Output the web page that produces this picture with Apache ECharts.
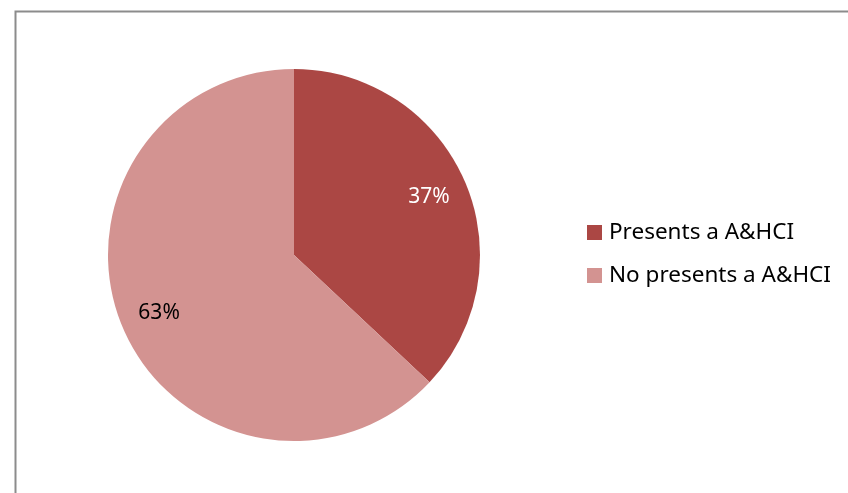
<!DOCTYPE html>
<html><head><meta charset="utf-8">
<script src="https://cdn.jsdelivr.net/npm/echarts@6/dist/echarts.min.js"></script>
<style>html,body{margin:0;padding:0;background:#fff}#c{width:848px;height:493px}</style>
</head><body><div id="c"></div>
<script>
var categories = ['Presents a A&HCI', 'No presents a A&HCI'];
var values = [37, 63];
var colors = ['#AB4744', '#D39391'];
var labelColors = ['#ffffff', '#000000'];

var font = 'Noto Sans';
var data = categories.map(function (n, i) {
  return { name: n, value: values[i], itemStyle: { color: colors[i] } };
});
var labelData = categories.map(function (n, i) {
  return { name: n, value: values[i], itemStyle: { color: 'transparent' },
    label: { color: labelColors[i] } };
});
var chart = echarts.init(document.getElementById('c'), null, { renderer: 'canvas' });
chart.setOption({
  animation: false,
  backgroundColor: '#fff',
  graphic: [{
    type: 'rect', left: 13, top: 9,
    shape: { width: 860, height: 500 },
    style: { fill: 'none', stroke: '#8c8c8c', lineWidth: 2 }, z: 0
  }],
  legend: {
    orient: 'vertical', left: 582, top: 216,
    itemWidth: 15, itemHeight: 15, itemGap: 20,
    icon: 'rect',
    data: categories,
    textStyle: { fontFamily: font, fontSize: 22.5, color: '#000', padding: [0, 0, 0, 2] }
  },
  series: [{
    type: 'pie', center: [294, 255], radius: 186,
    startAngle: 90, clockwise: true,
    label: { show: false }, labelLine: { show: false },
    emphasis: { disabled: true },
    data: data
  }, {
    type: 'pie', center: [294, 255], radius: [102, 186],
    startAngle: 90, clockwise: true, silent: true,
    legendHoverLink: false,
    label: { show: true, position: 'inside', formatter: function (p) { return p.value + '%'; },
      fontFamily: font, fontSize: 21 },
    labelLine: { show: false },
    emphasis: { disabled: true },
    data: labelData
  }]
});
</script></body></html>
